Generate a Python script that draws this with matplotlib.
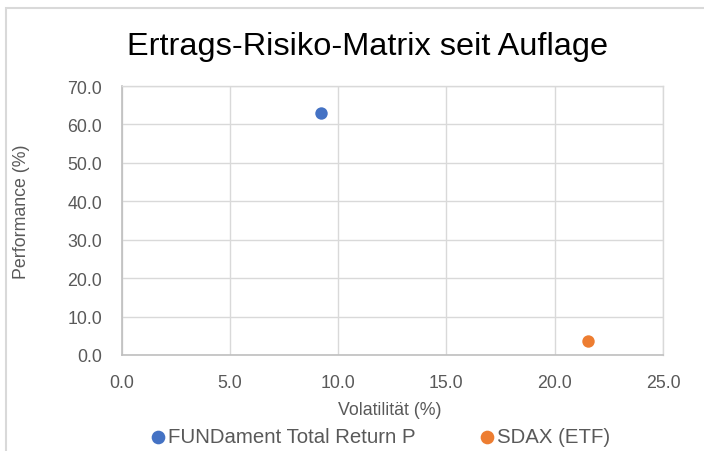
import matplotlib
matplotlib.use("Agg")
import matplotlib.pyplot as plt
from matplotlib.patches import Rectangle

plt.rcParams['font.family'] = ['Liberation Sans', 'DejaVu Sans']

series = ["FUNDament Total Return P", "SDAX (ETF)"]
volatility = [9.2, 21.55]
performance = [62.9, 3.7]
colors = ["#4472C4", "#ED7D31"]
x_ticks = [0.0, 5.0, 10.0, 15.0, 20.0, 25.0]
y_ticks = [0.0, 10.0, 20.0, 30.0, 40.0, 50.0, 60.0, 70.0]

W, H = 704, 452
fig = plt.figure(figsize=(W/100, H/100), dpi=100)
ax = fig.add_axes([121.5/W, 1-356/H, (663-121.5)/W, (356-87)/H])

for name, xv, yv, c in zip(series, volatility, performance, colors):
    ax.scatter([xv], [yv], s=80, color=c, label=name, zorder=3, linewidths=0)

ax.set_xlim(0, 25)
ax.set_ylim(0, 70)
ax.set_xticks(x_ticks)
ax.set_yticks(y_ticks)
ax.set_xticklabels([f"{v:.1f}" for v in x_ticks])
ax.set_yticklabels([f"{v:.1f}" for v in y_ticks])
ax.tick_params(length=0, labelsize=12.8, colors="#595959")
ax.tick_params(axis='x', pad=14)
ax.tick_params(axis='y', pad=14)
ax.grid(True, color="#d9d9d9", linewidth=1.0)
ax.set_axisbelow(True)
for s in ["top", "right"]:
    ax.spines[s].set_color("#d9d9d9")
    ax.spines[s].set_linewidth(1.0)
for s in ["left", "bottom"]:
    ax.spines[s].set_color("#bfbfbf")
    ax.spines[s].set_linewidth(1.2)

fig.text(368/W, 1-47/H, "Ertrags-Risiko-Matrix seit Auflage", ha="center", va="center",
         fontsize=23.4, color="#000000")
fig.text(390/W, 1-411/H, "Volatilität (%)", ha="center", va="center", fontsize=12.8, color="#595959")
fig.text(22/W, 1-212/H, "Performance (%)", ha="center", va="center", rotation=90,
         fontsize=12.8, color="#595959")

leg = fig.legend(loc="center", bbox_to_anchor=(379/W, 1-438/H), ncol=2, frameon=False,
                 fontsize=14.7, handletextpad=0.0, columnspacing=3.0, handlelength=1.0,
                 borderaxespad=0, markerscale=1.1)
for t in leg.get_texts():
    t.set_color("#595959")

fig.patches.append(Rectangle((6/W, -0.1), 2.0, (H-8.5)/H + 0.1, transform=fig.transFigure,
                             fill=False, edgecolor="#d9d9d9", linewidth=1.5, clip_on=False))

fig.savefig("out.png", dpi=100)
